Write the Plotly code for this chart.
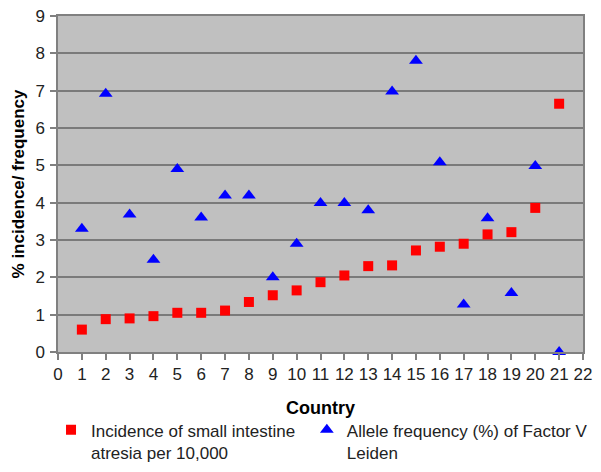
import plotly.graph_objects as go

countries = list(range(1, 22))
incidence = [0.60, 0.88, 0.90, 0.96, 1.05, 1.05, 1.11, 1.34, 1.52, 1.65, 1.87,
             2.05, 2.30, 2.32, 2.72, 2.82, 2.90, 3.15, 3.21, 3.86, 6.65]
allele = [3.30, 6.92, 3.68, 2.47, 4.90, 3.60, 4.19, 4.19, 2.00, 2.90, 3.99,
          3.99, 3.80, 6.98, 7.80, 5.08, 1.27, 3.58, 1.58, 4.98, 0.0]
x_ticks = list(range(0, 23))
y_ticks = list(range(0, 10))

name_incidence = "Incidence of small intestine<br>atresia per 10,000"
name_allele = "Allele frequency (%) of Factor V<br>Leiden"

FONT = "Liberation Sans, Arial, sans-serif"

fig = go.Figure()
fig.add_trace(go.Scatter(
    x=countries, y=incidence, mode="markers", name=name_incidence,
    marker=dict(symbol="square", size=10, color="#FF0000", line=dict(width=0)),
    legend="legend",
))
fig.add_trace(go.Scatter(
    x=countries, y=allele, mode="markers", name=name_allele,
    marker=dict(symbol="triangle-up", size=12, color="#0000FF", line=dict(width=0)),
    cliponaxis=False, legend="legend2",
))

legend_common = dict(
    orientation="v", xanchor="left", yanchor="top", valign="top",
    font=dict(size=17, color="#222222"), bgcolor="rgba(0,0,0,0)",
)

fig.update_layout(
    width=585, height=456,
    margin=dict(l=50, r=10, t=8, b=112, autoexpand=False),
    paper_bgcolor="white",
    plot_bgcolor="#C0C0C0",
    font=dict(family=FONT, size=17, color="#222222"),
    showlegend=True,
    legend=dict(x=-0.0133, y=-0.1795, **legend_common),
    legend2=dict(x=0.474, y=-0.1795, **legend_common),
    xaxis=dict(
        range=[0, 22], tickmode="array", tickvals=x_ticks,
        ticktext=[str(v) for v in x_ticks],
        showgrid=False, zeroline=False, automargin=False,
        ticklabeloverflow="allow",
        showline=True, linecolor="#808080", linewidth=1.5, mirror=True,
        ticks="outside", ticklen=6, tickcolor="#808080", tickwidth=1.5,
        tickfont=dict(size=17, color="#222222"),
        title=dict(text="<b>Country</b>", font=dict(size=18, color="#000000"), standoff=18),
    ),
    yaxis=dict(
        range=[0, 9], tickmode="array", tickvals=y_ticks,
        ticktext=[str(v) for v in y_ticks],
        showgrid=True, gridcolor="#7A7A7A", gridwidth=1.5, zeroline=False,
        automargin=False, ticklabeloverflow="allow", ticklabelstandoff=2,
        showline=True, linecolor="#808080", linewidth=1.5, mirror=True,
        ticks="outside", ticklen=6, tickcolor="#808080", tickwidth=1.5,
        tickfont=dict(size=17, color="#222222"),
        title=dict(text="<b>% incidence/ frequency</b>", font=dict(size=17, color="#000000"), standoff=6),
    ),
)

fig.write_html("out.html")
